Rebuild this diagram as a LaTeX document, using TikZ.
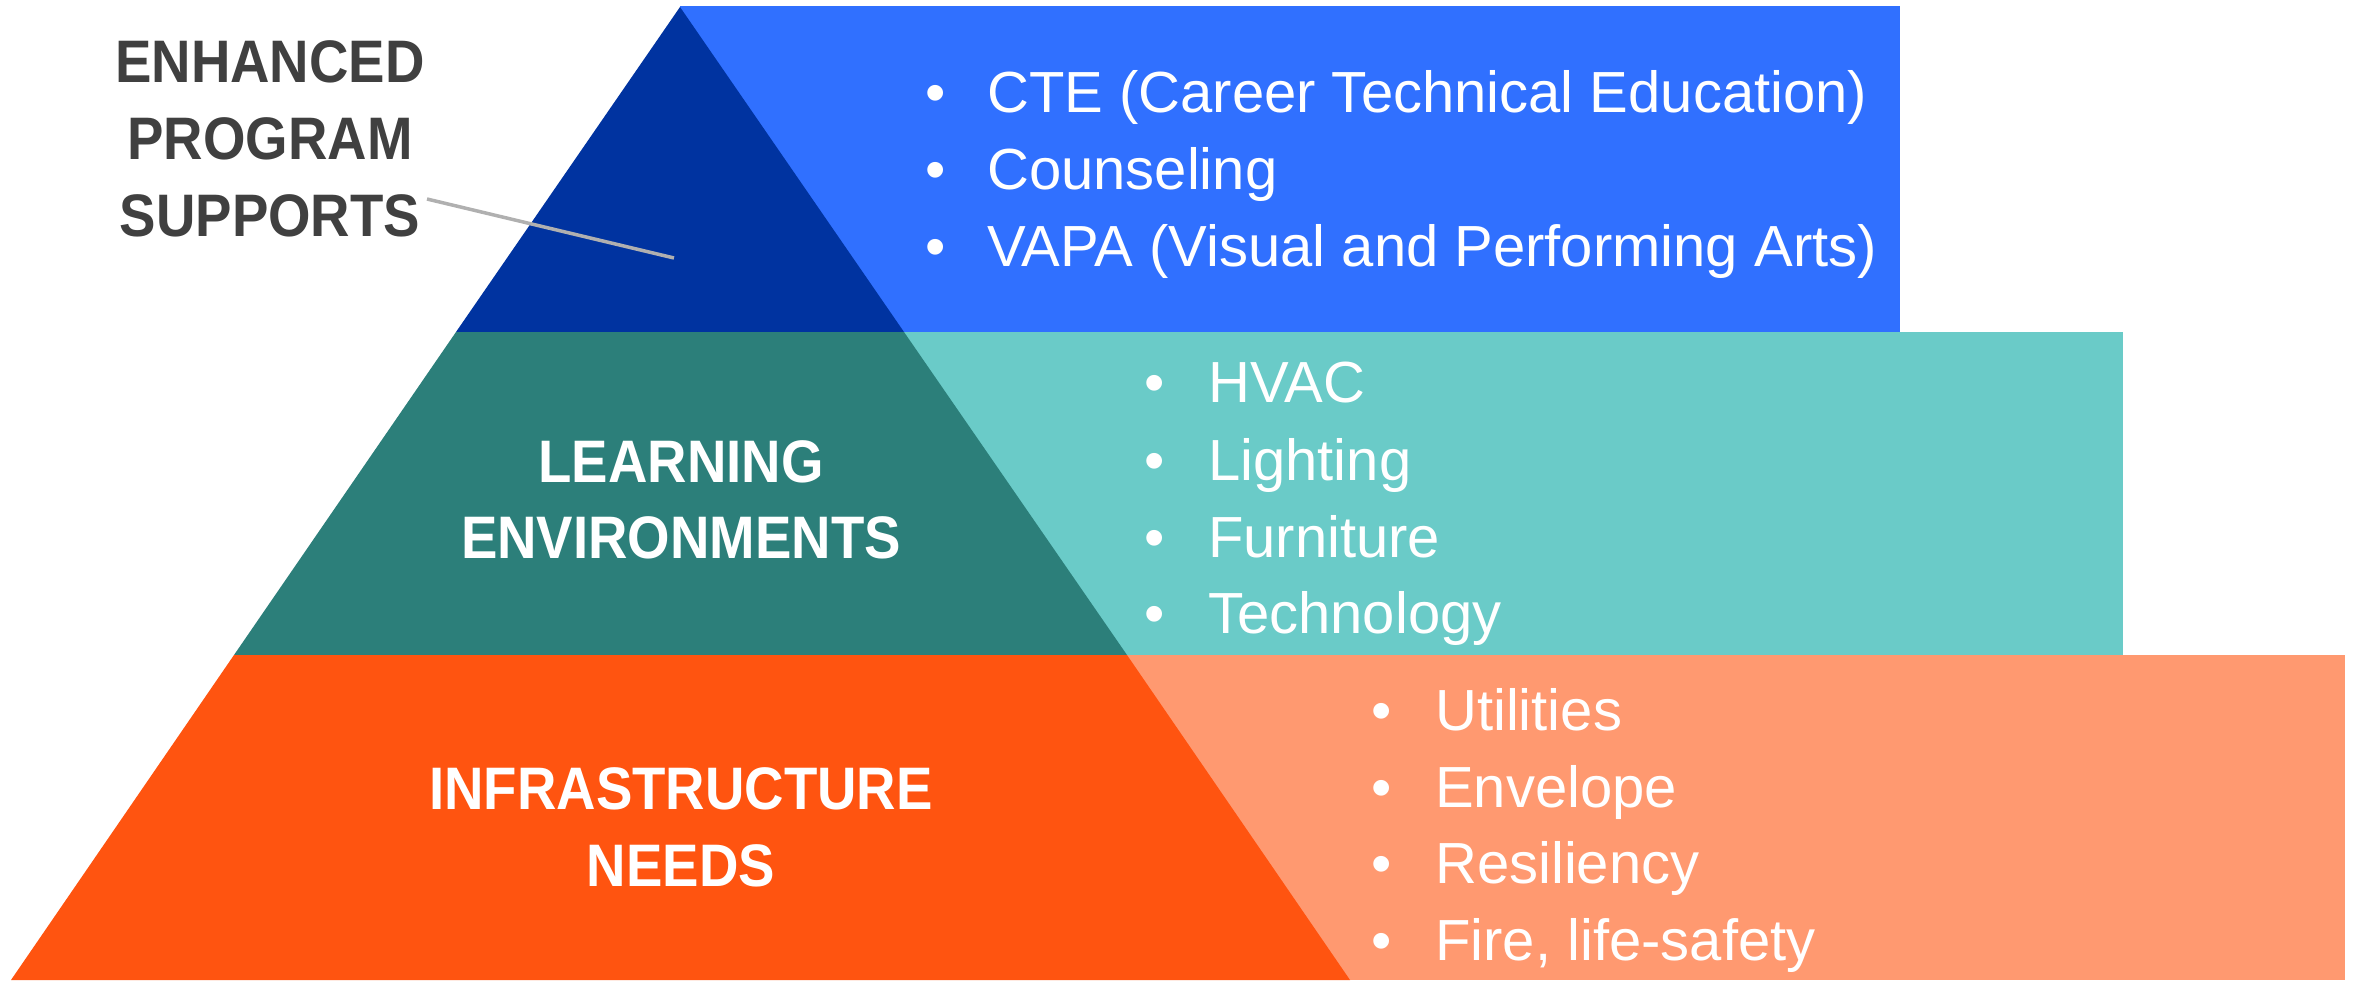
\documentclass[tikz,border=0pt]{standalone}
\usepackage{fontspec}
\setmainfont{Liberation Sans}
\newfontfamily\labelfont[FakeStretch=0.91]{Liberation Sans Bold}
\definecolor{dkblue}{HTML}{0033A0}
\definecolor{ltblue}{HTML}{3070FF}
\definecolor{dkteal}{HTML}{2C7F7A}
\definecolor{ltteal}{HTML}{6ACBC8}
\definecolor{dkorange}{HTML}{FF5410}
\definecolor{ltorange}{HTML}{FF9970}
\definecolor{labelgray}{HTML}{404040}
\definecolor{leadergray}{HTML}{B0B0B0}
\tikzset{
  itemtext/.style={anchor=base west, inner sep=0pt, text=white, font=\fontsize{58}{70}\selectfont},
  tierlabel/.style={anchor=base, inner sep=0pt, text=white, font=\labelfont\fontsize{60}{72}\selectfont},
  sidelabel/.style={tierlabel, text=labelgray},
  leader/.style={draw=leadergray, line width=3.5pt}
}
\newcommand{\bul}[1]{\makebox[#1][l]{\textbullet}}
\begin{document}
\begin{tikzpicture}[x=1pt,y=-1pt]
\useasboundingbox (0,0) rectangle (2361,984);
% light boxes
\fill[ltblue] (680,6) rectangle (1900,332);
\fill[ltteal] (680,332) rectangle (2123,655);
\fill[ltorange] (680,655) rectangle (2345,980);
% pyramid tiers
\fill[dkblue] (680,7) -- (456,332) -- (904,332) -- cycle;
\fill[dkteal] (456,332) -- (904,332) -- (1127,655) -- (234,655) -- cycle;
\fill[dkorange] (234,655) -- (1127,655) -- (1350,980) -- (11,980) -- cycle;
% leader
\coordinate (leadA) at (427,199);
\coordinate (leadB) at (674,258);
\draw[leader] (leadA) -- (leadB);
% side label
\node[sidelabel] (s1) at (270,83) {ENHANCED};
\node[sidelabel] (s2) at (270,160) {PROGRAM};
\node[sidelabel] (s3) at (270,237) {SUPPORTS};
% tier labels
\node[tierlabel] (l1) at (681,482) {LEARNING};
\node[tierlabel] (l2) at (681,558) {ENVIRONMENTS};
\node[tierlabel] (i1) at (681,809) {INFRASTRUCTURE};
\node[tierlabel] (i2) at (681,886) {NEEDS};
% blue items
\node[itemtext] (b1) at (925,113) {\bul{62pt}CTE (Career Technical Education)};
\node[itemtext] (b2) at (925,190) {\bul{62pt}Counseling};
\node[itemtext] (b3) at (925,267) {\bul{62pt}VAPA (Visual and Performing Arts)};
% teal items
\node[itemtext] (t1) at (1144,402) {\bul{64pt}HVAC};
\node[itemtext] (t2) at (1144,480) {\bul{64pt}Lighting};
\node[itemtext] (t3) at (1144,557) {\bul{64pt}Furniture};
\node[itemtext] (t4) at (1144,633) {\bul{64pt}Technology};
% orange items
\node[itemtext] (o1) at (1371,730) {\bul{64pt}Utilities};
\node[itemtext] (o2) at (1371,807) {\bul{64pt}Envelope};
\node[itemtext] (o3) at (1371,883) {\bul{64pt}Resiliency};
\node[itemtext] (o4) at (1371,960) {\bul{64pt}Fire, life-safety};
\end{tikzpicture}
\end{document}
